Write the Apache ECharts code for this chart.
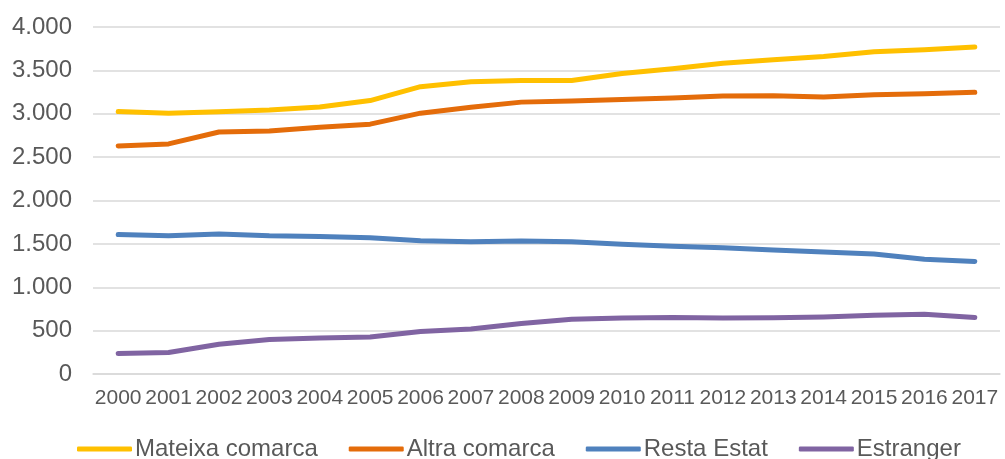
<!DOCTYPE html>
<html>
<head>
<meta charset="utf-8">
<script src="https://cdn.jsdelivr.net/npm/echarts@6/dist/echarts.min.js"></script>
<style>
html,body{margin:0;padding:0;background:#fff;}
#chart{width:1005px;height:459px;}
</style>
</head>
<body>
<div id="chart"></div>
<script>
const years = ['2000','2001','2002','2003','2004','2005','2006','2007','2008','2009','2010','2011','2012','2013','2014','2015','2016','2017'];
const mateixaComarca = [3025, 3006, 3022, 3043, 3078, 3152, 3312, 3368, 3382, 3383, 3465, 3520, 3582, 3622, 3660, 3716, 3738, 3770];
const altraComarca   = [2628, 2652, 2790, 2802, 2845, 2880, 3007, 3076, 3134, 3148, 3165, 3182, 3205, 3207, 3192, 3220, 3230, 3248];
const restaEstat     = [1608, 1594, 1615, 1594, 1586, 1570, 1535, 1524, 1532, 1524, 1497, 1474, 1455, 1428, 1405, 1382, 1322, 1298];
const estranger      = [235, 247, 343, 397, 416, 427, 489, 520, 582, 630, 645, 652, 646, 647, 658, 676, 690, 650];
const seriesNames = ['Mateixa comarca', 'Altra comarca', 'Resta Estat', 'Estranger'];
const colors = ['#FFC000', '#E46C0A', '#4F81BD', '#8064A2'];

const chart = echarts.init(document.getElementById('chart'), null, {renderer: 'canvas'});
const dataSets = [mateixaComarca, altraComarca, restaEstat, estranger];
const fontFamily = '"Liberation Sans", Arial, sans-serif';

chart.setOption({
  animation: false,
  color: colors,
  textStyle: {fontFamily: fontFamily, color: '#595959'},
  grid: {left: 93, right: 5, top: 27, bottom: 85, containLabel: false},
  legend: {
    left: 77,
    top: 437,
    padding: 0,
    itemWidth: 55,
    itemHeight: 5,
    itemGap: 31,
    icon: 'roundRect',
    textStyle: {fontSize: 24, color: '#595959', fontFamily: fontFamily, padding: [0, 0, 0, -2]},
    data: seriesNames
  },
  xAxis: {
    type: 'category',
    data: years,
    boundaryGap: true,
    axisLine: {show: true, lineStyle: {color: '#D9D9D9', width: 1.5}},
    axisTick: {show: false},
    axisLabel: {fontSize: 21, color: '#595959', margin: 14, interval: 0, fontFamily: fontFamily}
  },
  yAxis: {
    type: 'value',
    min: 0,
    max: 4000,
    interval: 500,
    axisLine: {show: false},
    axisTick: {show: false},
    splitLine: {lineStyle: {color: '#D9D9D9', width: 1.5}},
    axisLabel: {
      fontSize: 24,
      color: '#595959',
      margin: 21,
      fontFamily: fontFamily,
      formatter: function (v) {
        return v >= 1000 ? Math.floor(v / 1000) + '.' + String(v % 1000).padStart(3, '0') : String(v);
      }
    }
  },
  series: seriesNames.map(function (name, i) {
    return {
      name: name,
      type: 'line',
      data: dataSets[i],
      symbol: 'none',
      smooth: false,
      lineStyle: {width: 5, color: colors[i], cap: 'round', join: 'round'},
      itemStyle: {color: colors[i]}
    };
  })
});
</script>
</body>
</html>
